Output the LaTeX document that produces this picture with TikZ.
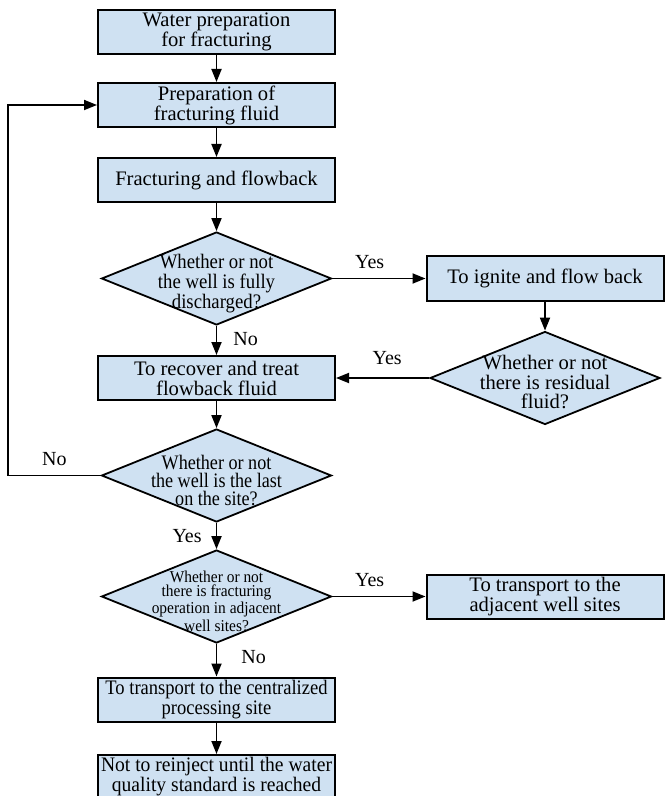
\documentclass[tikz,border=0pt]{standalone}
\usepackage{fontspec}
\setmainfont{Liberation Serif}
\usepackage{tikz}
\usetikzlibrary{arrows.meta,shapes.geometric}
\definecolor{boxblue}{RGB}{207,225,242}
\newcommand{\squeeze}[1]{\addfontfeature{FakeStretch=#1}}

\begin{document}
\begin{tikzpicture}[x=0.5pt,y=-0.5pt]
        \tikzstyle{every node}+=[inner sep=0pt]
        \tikzstyle{procbox}=[draw=black, fill=boxblue, line width=1pt, minimum width=118.5pt, minimum height=22pt, align=center, font=\fontsize{10.3}{10}\selectfont]
        \tikzstyle{decision}=[draw=black, fill=boxblue, line width=0.9pt, diamond, minimum width=115pt, minimum height=46.5pt]
        \tikzstyle{qtext}=[align=center]
        \tikzstyle{flow}=[line width=0.9pt, -{Triangle[length=6.5pt,width=5pt]}]
        \tikzstyle{lbl}=[font=\fontsize{10}{10}\selectfont]
        \useasboundingbox (0,0) rectangle (664,796);
        \fill [white] (0,0) rectangle (664,796);
        \node [procbox] (water) at (216.5,32) {Water preparation\\for fracturing};
        \node [procbox] (fluid) at (216.5,105) {Preparation of\\fracturing fluid};
        \node [procbox] (frac) at (216.5,180) {Fracturing and flowback};
        \node [decision] (q1) at (216.5,278.5) {};
        \node [qtext, font=\fontsize{10.3}{10}\selectfont\squeeze{0.91}] (q1t) at (216.5,283.5) {Whether or not\\the well is fully\\discharged?};
        \node [procbox] (ignite) at (545,278.5) {To ignite and flow back};
        \node [decision] (q2) at (545,378) {};
        \node [qtext, font=\fontsize{10.3}{9.7}\selectfont] (q2t) at (545,382) {Whether or not\\there is residual\\fluid?};
        \node [procbox] (recover) at (216.5,378) {To recover and treat\\flowback fluid};
        \node [decision] (q3) at (216.5,475.5) {};
        \node [qtext, font=\fontsize{10.3}{9}\selectfont\squeeze{0.88}] (q3t) at (216.5,480) {Whether or not\\the well is the last\\on the site?};
        \node [decision] (q4) at (216.5,596.5) {};
        \node [qtext, font=\fontsize{8.3}{7.3}\selectfont\squeeze{0.93}] (q4t) at (216.5,601) {Whether or not\\there is fracturing\\operation in adjacent\\well sites?};
        \node [procbox] (adjacent) at (545,596.5) {To transport to the\\adjacent well sites};
        \node [procbox, font=\fontsize{10.3}{10}\selectfont\squeeze{0.9}] (central) at (216.5,699.5) {To transport to the centralized\\processing site};
        \node [procbox, font=\fontsize{10.3}{10}\selectfont\squeeze{0.95}] (reinject) at (216.5,777) {Not to reinject until the water\\quality standard is reached};
        \coordinate (loopx) at (8,0);
        \draw [flow] (water) -- (fluid);
        \draw [flow] (fluid) -- (frac);
        \draw [flow] (frac) -- (q1);
        \draw [flow] (q1) -- node [lbl, pos=0.4, above=4.5pt] {Yes} (ignite);
        \draw [flow] (ignite) -- (q2);
        \draw [flow] (q1) -- node [lbl, pos=0.45, right=8pt] {No} (recover);
        \draw [flow] (q2) -- node [lbl, pos=0.45, above=6pt] {Yes} (recover);
        \draw [flow] (recover) -- (q3);
        \draw [flow] (q3.west) -- node [lbl, above=4.5pt] {No} (q3.west -| loopx) |- (fluid.west);
        \draw [flow] (q3) -- node [lbl, pos=0.5, left=7pt] {Yes} (q4);
        \draw [flow] (q4) -- node [lbl, pos=0.4, above=4.5pt] {Yes} (adjacent);
        \draw [flow] (q4) -- node [lbl, pos=0.4, right=12pt] {No} (central);
        \draw [flow] (central) -- (reinject);
      \end{tikzpicture}
\end{document}
